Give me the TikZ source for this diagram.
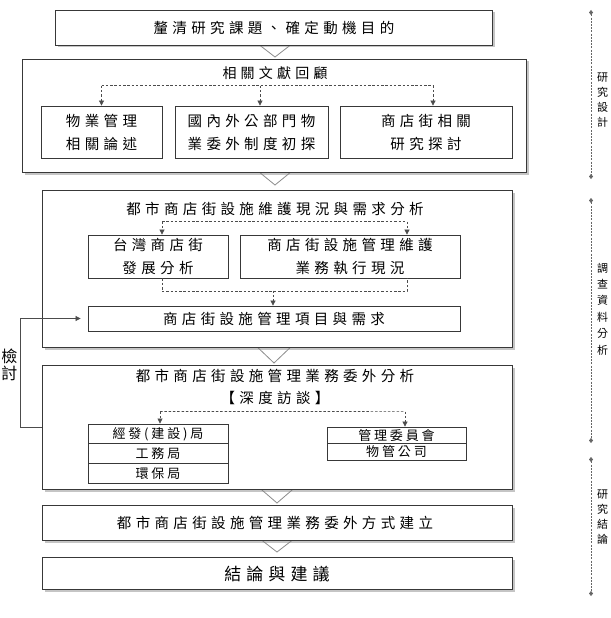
\documentclass[tikz,border=0pt]{standalone}
\usepackage{fontspec}
\newfontfamily\cjk[LetterSpace=30]{Noto Sans CJK TC}
\newfontfamily\cjksm[LetterSpace=22]{Noto Sans CJK TC}
\newfontfamily\cjkplain{Noto Sans CJK TC}
\usetikzlibrary{arrows.meta,shadows,calc}
\begin{document}
\begin{tikzpicture}[x=1pt,y=-1pt,
  every node/.style={inner sep=0pt, text=black},
  txt/.style={font=\cjk\fontsize{14.5}{23}\selectfont, align=center},
  smalltxt/.style={font=\cjksm\fontsize{13}{14}\selectfont},
  bigbox/.style={draw=black!78, line width=0.9pt, fill=white,
     drop shadow={shadow xshift=2.5pt, shadow yshift=-2.5pt, fill=black!50, opacity=0.45}},
  subbox/.style={draw=black!78, line width=0.8pt, fill=white},
  chev/.style={draw=black!45, line width=0.8pt, fill=white},
  dsh/.style={draw=black!70, line width=0.7pt, dash pattern=on 2.5pt off 1.8pt},
  tip/.style={-{Triangle[length=5pt,width=5pt]}},
  fbl/.style={draw=black!70, line width=0.7pt},
  side/.style={draw=black!60, line width=0.7pt, dash pattern=on 2pt off 1.2pt,
     {Diamond[length=5pt,width=4pt]}-{Diamond[length=5pt,width=4pt]}},
  sidetxt/.style={font=\cjkplain\fontsize{11}{15}\selectfont, align=center}
]
\useasboundingbox (0,0) rectangle (610,618);
\fill[white] (0,0) rectangle (610,618);

% chevrons (drawn first, tops hidden under upper boxes)
\draw[chev] (253,40) -- (297,40) -- (275,57) -- cycle;
\draw[chev] (253,167) -- (297,167) -- (275,185) -- cycle;
\draw[chev] (252,342) -- (296,342) -- (274,363) -- cycle;
\draw[chev] (255,484) -- (299,484) -- (277,503) -- cycle;
\draw[chev] (255,535) -- (299,535) -- (277,552) -- cycle;

% box 1
\node[bigbox, minimum width=437, minimum height=35] (b1) at (273.5,27.5) {};
\node[txt] (t1) at (274,28) {釐清研究課題、確定動機目的};

% box 2
\node[bigbox, minimum width=504, minimum height=113] (b2) at (274,115.5) {};
\node[txt, font=\cjk\fontsize{14}{20}\selectfont] (t2) at (275,73) {相關文獻回顧};
\node[subbox, minimum width=121, minimum height=52] (sa) at (101.5,132) {};
\node[txt] (ta) at (sa) {物業管理\\相關論述};
\node[subbox, minimum width=153, minimum height=52] (sb) at (251.5,132) {};
\node[txt] (tb) at (sb) {國內外公部門物\\業委外制度初探};
\node[subbox, minimum width=172, minimum height=52] (sc) at (426,132) {};
\node[txt] (tc) at (sc) {商店街相關\\研究探討};
\coordinate (d2a) at ($(sa.north)+(0,-20)$);
\coordinate (d2b) at ($(sb.north)+(8.5,-20)$);
\coordinate (d2c) at ($(sc.north)+(7,-20)$);
\draw[dsh] (d2a) -- (d2c);
\draw[dsh,tip] (d2a) -- (sa.north);
\draw[dsh,tip] (d2b) -- ($(sb.north)+(8.5,0)$);
\draw[dsh,tip] (d2c) -- ($(sc.north)+(7,0)$);

% box 3
\node[bigbox, minimum width=470, minimum height=157] (b3) at (277,268.5) {};
\node[txt] (t3) at (275,209) {都市商店街設施維護現況與需求分析};
\node[subbox, minimum width=140, minimum height=43] (s3a) at (158,256.5) {};
\node[txt] (t3a) at (s3a) {台灣商店街\\發展分析};
\node[subbox, minimum width=220, minimum height=43] (s3b) at (350,256.5) {};
\node[txt] (t3b) at (s3b) {商店街設施管理維護\\業務執行現況};
\node[subbox, minimum width=372, minimum height=25] (s3c) at (274,318.5) {};
\node[txt] (t3c) at (s3c) {商店街設施管理項目與需求};
\coordinate (d3a) at ($(s3a.north)+(4,-13)$);
\coordinate (d3b) at ($(s3b.north)+(57,-13)$);
\draw[dsh] (d3a) -- (d3b);
\draw[dsh,tip] (d3a) -- ($(s3a.north)+(4,0)$);
\draw[dsh,tip] (d3b) -- ($(s3b.north)+(57,0)$);
\coordinate (e3a) at ($(s3a.south)+(4,13)$);
\coordinate (e3b) at ($(s3b.south)+(57,13)$);
\coordinate (e3m) at ($(s3c.north)+(-1,-15)$);
\draw[dsh] ($(s3a.south)+(4,0)$) -- (e3a) -- (e3b) -- ($(s3b.south)+(57,0)$);
\draw[dsh,tip] (e3m) -- ($(s3c.north)+(-1,0)$);

% box 4
\node[bigbox, minimum width=470, minimum height=124] (b4) at (277,427) {};
\node[txt] (t4) at (275,376) {都市商店街設施管理業務委外分析};
\node[txt] (t4b) at (275,398) {【深度訪談】};
\node[subbox, minimum width=140, minimum height=19.67, smalltxt] (k1) at (158,433.8) {經發(建設)局};
\node[subbox, minimum width=140, minimum height=19.67, smalltxt] (k2) at (158,453.5) {工務局};
\node[subbox, minimum width=140, minimum height=19.67, smalltxt] (k3) at (158,473.2) {環保局};
\node[subbox, minimum width=139, minimum height=16.5, smalltxt] (m1) at (396.5,435.25) {管理委員會};
\node[subbox, minimum width=139, minimum height=16.5, smalltxt] (m2) at (396.5,451.75) {物管公司};
\coordinate (d4a) at ($(k1.north)+(2,-12)$);
\coordinate (d4b) at ($(m1.north)+(8.5,-15)$);
\draw[dsh] (d4a) -- (d4b);
\draw[dsh,tip] (d4a) -- ($(k1.north)+(2,0)$);
\draw[dsh,tip] (d4b) -- ($(m1.north)+(8.5,0)$);

% feedback
\draw[fbl,tip,shorten >=7pt] (b4.west) -- ++(-21,0) |- (s3c.west);
\node[font=\cjkplain\fontsize{16}{17}\selectfont, align=center] (fb) at (9.5,364.5) {檢\\討};

% box 5, 6
\node[bigbox, minimum width=470, minimum height=35] (b5) at (277,522.5) {};
\node[txt] (t5) at (275,523) {都市商店街設施管理業務委外方式建立};
\node[bigbox, minimum width=470, minimum height=32] (b6) at (277,573) {};
\node[txt, font=\cjk\fontsize{17}{20}\selectfont] (t6) at (277,574) {結論與建議};

% right side
\coordinate (r1a) at (591,10);  \coordinate (r1b) at (591,179);
\coordinate (r2a) at (591,198); \coordinate (r2b) at (591,443);
\coordinate (r3a) at (591,457); \coordinate (r3b) at (591,596);
\draw[side] (r1a) -- (r1b);
\draw[side] (r2a) -- (r2b);
\draw[side] (r3a) -- (r3b);
\node[sidetxt] (rt1) at (602.5,100) {研\\究\\設\\計};
\node[sidetxt, font=\cjkplain\fontsize{11}{16.4}\selectfont] (rt2) at (602.5,309) {調\\查\\資\\料\\分\\析};
\node[sidetxt] (rt3) at (602.5,517) {研\\究\\結\\論};
\end{tikzpicture}
\end{document}
